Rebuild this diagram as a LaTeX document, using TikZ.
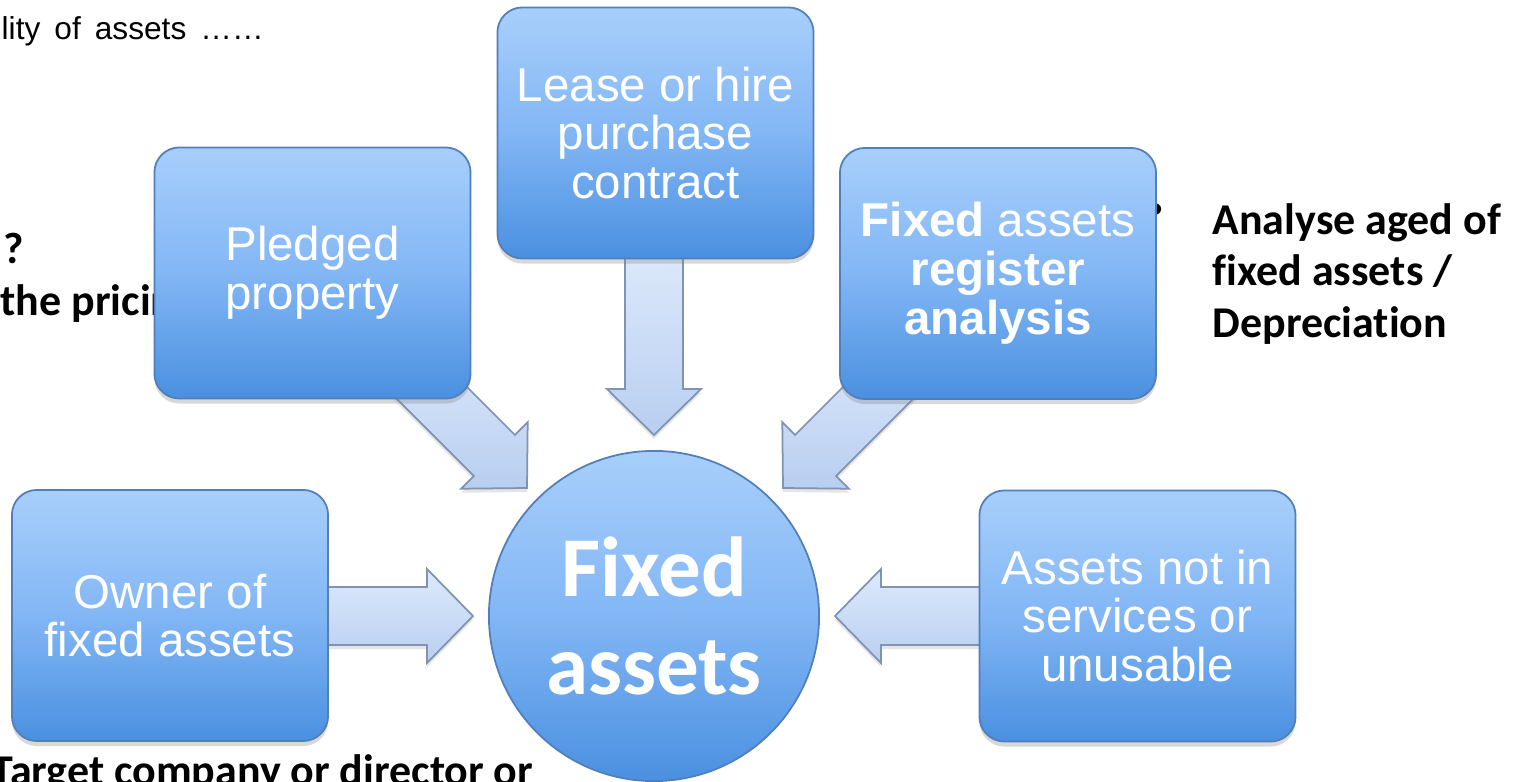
\documentclass[tikz,border=0pt]{standalone}
\usepackage{fontspec}
\setmainfont{Liberation Sans}
\newfontfamily\calibri[Ligatures=NoCommon]{Carlito}
\usetikzlibrary{positioning,shadows}

\definecolor{boxtop}{RGB}{168,207,251}
\definecolor{boxmid}{RGB}{130,182,245}
\definecolor{boxbot}{RGB}{74,144,224}
\definecolor{boxline}{RGB}{82,126,186}
\definecolor{arrowhi}{RGB}{222,234,252}
\definecolor{arrowlo}{RGB}{184,206,240}
\definecolor{arrowline}{RGB}{128,148,178}

\tikzset{
  card/.style={rectangle, rounded corners=0.25cm, minimum width=3.16cm, minimum height=2.51cm,
    top color=boxtop, bottom color=boxbot, middle color=boxmid, draw=boxline, line width=0.5pt,
    text=white, align=center, font=\fontsize{13.5}{13.9}\selectfont,
    drop shadow={opacity=0.3, shadow xshift=0pt, shadow yshift=-0.05cm}},
  hub/.style={circle, minimum size=3.3cm, inner sep=0pt,
    top color=boxtop, bottom color=boxbot, middle color=boxmid, draw=boxline, line width=0.5pt,
    text=white, align=center, font=\calibri\bfseries\fontsize{24.2}{27.8}\selectfont},
  note/.style={inner sep=0pt, align=left, font=\calibri\bfseries\fontsize{12.5}{14.6}\selectfont},
  blockarrow/.style={top color=arrowhi, bottom color=arrowlo, draw=arrowline, line width=0.5pt,
    drop shadow={opacity=0.2, shadow xshift=0pt, shadow yshift=-0.04cm}}
}

\begin{document}
\begin{tikzpicture}[x=0.01cm, y=-0.01cm]
\useasboundingbox (0,0) rectangle (1517,781);
\fill[white] (0,0) rectangle (1517,781);

% Draw the texts behind the diagram
\node[inner sep=0pt, anchor=base west, font=\fontsize{9}{10}\selectfont] (quality) at (1,39)
  {\spaceskip=4pt lity of assets ……};
\node[note, anchor=base west] (question) at (3,263) {?};
\node[note, anchor=base west] (pricing) at (0,315) {the pricing};
\node[note, anchor=north west] (aged) at (1212,203) {Analyse aged of\\fixed assets /\\Depreciation};
\node[note, anchor=base west] (target) at (-9,785) {Target company or director or};
\node[inner sep=0pt, font=\fontsize{12}{12}\selectfont] (dot) at (1156,214) {•};

% Define the tips of the arrows
\coordinate (tipN) at (654,435);
\coordinate (tipNW) at (527,488);
\coordinate (tipNE) at (783,488);
\coordinate (tipW) at (473,616);
\coordinate (tipE) at (835,616);

% Draw the block arrows pointing to the centre
\foreach \t/\a/\l in {tipN/-90/190, tipNW/-45/190, tipNE/-135/190, tipW/0/160, tipE/180/160}
  \draw[blockarrow, shift={(\t)}, rotate=\a]
    (0,0) -- (-46,-47) -- (-46,-29) -- (-\l,-29) -- (-\l,29) -- (-46,29) -- (-46,47) -- cycle;

% Draw the boxes
\node[card] (lease) at (655.5,133) {Lease or hire\\purchase\\contract};
\node[card] (pledged) at (312.5,273) {Pledged\\property};
\node[card] (register) at (998,273.5) {\textbf{Fixed} assets\\\textbf{register}\\\textbf{analysis}};
\node[card] (owner) at (170,615.5) {Owner of\\fixed assets};
\node[card] (unused) at (1137.5,616) {Assets not in\\services or\\unusable};

% Draw the centre
\node[hub] (hub) at (654,616) {Fixed\\assets};
\end{tikzpicture}
\end{document}
